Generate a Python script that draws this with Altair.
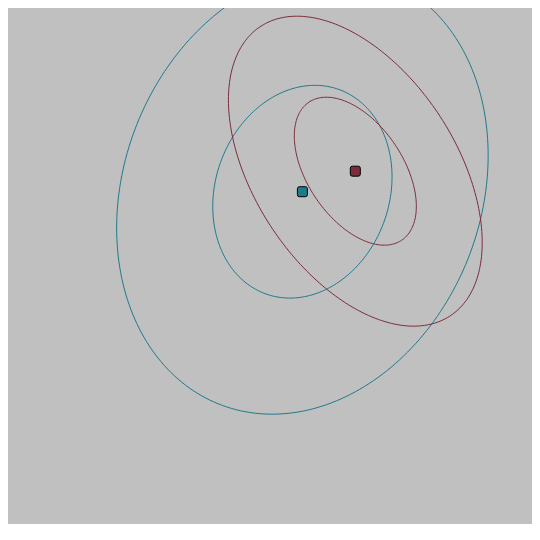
import numpy as np
import pandas as pd
import altair as alt

# Group centres (data units)
groups = ["A", "B"]
center_x = [56.0, 65.8]
center_y = [64.5, 68.3]
colors = ["#1f7a8c", "#7b2d3b"]

# Ellipses: group, level, half-extent in x, half-extent in y, correlation
ell_group = ["A", "A", "B", "B"]
ell_level = ["inner", "outer", "inner", "outer"]
ell_hx = [16.6, 34.4, 11.3, 23.5]
ell_hy = [19.7, 41.2, 13.7, 28.7]
ell_rho = [0.139, 0.163, -0.475, -0.46]

ci = dict(zip(groups, range(len(groups))))
rows = []
t = np.linspace(0, 2 * np.pi, 241)
for g, lv, hx, hy, r in zip(ell_group, ell_level, ell_hx, ell_hy, ell_rho):
    i = ci[g]
    xs = center_x[i] + hx * np.cos(t)
    ys = center_y[i] + hy * (r * np.cos(t) + np.sqrt(1 - r * r) * np.sin(t))
    for k, (a, b) in enumerate(zip(xs, ys)):
        rows.append({"group": g, "id": g + lv, "k": k, "x": a, "y": b})
ell_df = pd.DataFrame(rows)
pts_df = pd.DataFrame({"group": groups, "x": center_x, "y": center_y})

xs = alt.Scale(domain=[1.481, 98.52], nice=False, zero=False)
ys = alt.Scale(domain=[2.963, 98.52], nice=False, zero=False)
col = alt.Scale(domain=groups, range=colors)

lines = alt.Chart(ell_df).mark_line(strokeWidth=1, clip=True).encode(
    x=alt.X("x:Q", scale=xs, axis=None),
    y=alt.Y("y:Q", scale=ys, axis=None),
    detail="id:N",
    order="k:Q",
    color=alt.Color("group:N", scale=col, legend=None),
)

rounded = "M -0.6 -1 L 0.6 -1 Q 1 -1 1 -0.6 L 1 0.6 Q 1 1 0.6 1 L -0.6 1 Q -1 1 -1 0.6 L -1 -0.6 Q -1 -1 -0.6 -1 Z"
points = alt.Chart(pts_df).mark_point(
    shape=rounded, filled=True, size=100, stroke="black", strokeWidth=1, opacity=1
).encode(
    x=alt.X("x:Q", scale=xs, axis=None),
    y=alt.Y("y:Q", scale=ys, axis=None),
    fill=alt.Color("group:N", scale=col, legend=None),
)

chart = (lines + points).properties(
    width=524, height=516, autosize=alt.AutoSizeParams(type="none"), padding=0,
    background="#c0c0c0",
).configure_view(stroke=None, fill="#c0c0c0")

chart.save("out.html", embed_options={"renderer": "svg", "actions": False})
